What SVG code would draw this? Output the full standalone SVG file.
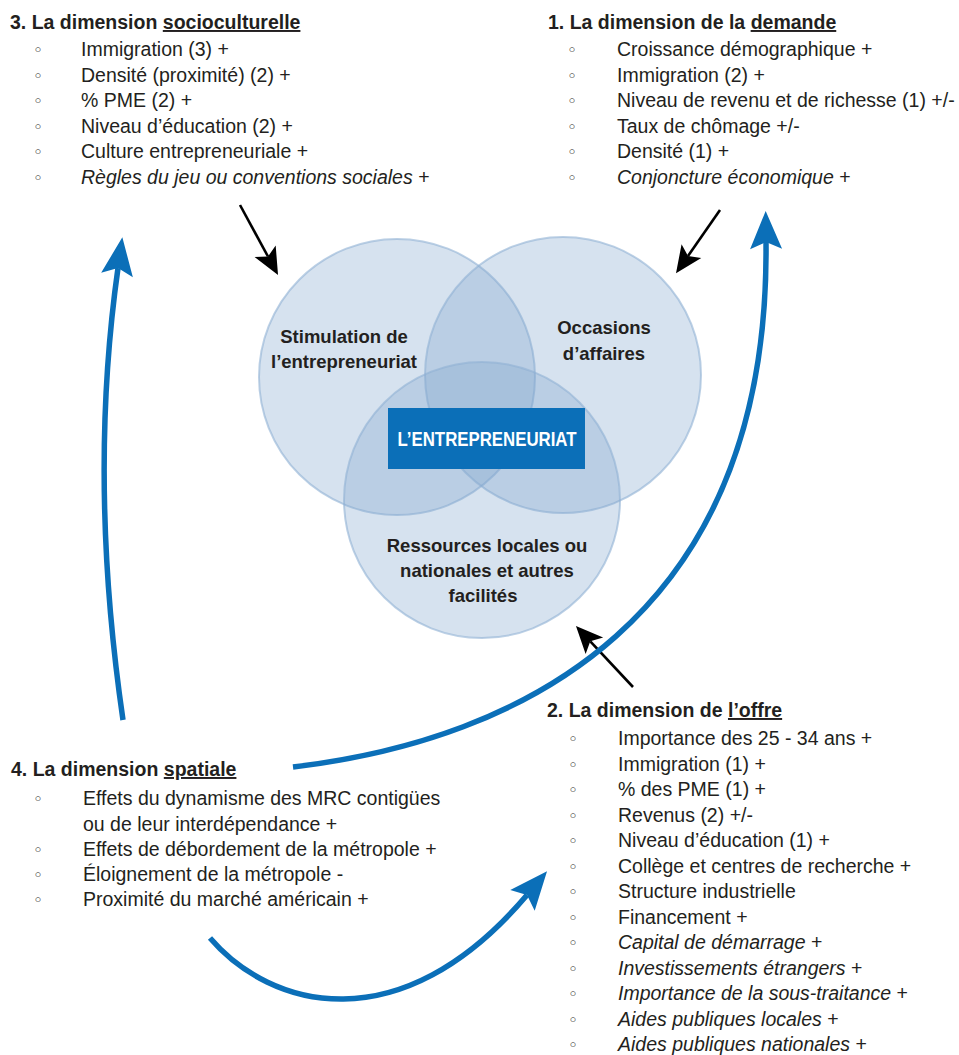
<svg xmlns="http://www.w3.org/2000/svg" width="959" height="1055" viewBox="0 0 959 1055">
<style>
text{font-family:"Liberation Sans",Arial,sans-serif;fill:#231f20}
.h{font-size:19.5px;font-weight:bold}
.it{font-size:19.5px}
.i{font-style:italic}
.n{font-style:normal}
.b{font-size:17px;font-family:"DejaVu Sans",sans-serif}
.u{text-decoration:underline}
.lbl{font-size:18.5px;font-weight:bold;text-anchor:middle}
.circ{fill:#7fa4cd;fill-opacity:0.32;stroke:#8fb0d3;stroke-opacity:0.6;stroke-width:2}
.blk{fill:none;stroke:#000;stroke-width:2.6}
.blu{fill:none;stroke:#0b6fb8;stroke-width:5.5}
</style>
<defs>
<marker id="ab" markerUnits="userSpaceOnUse" orient="auto" overflow="visible" refX="0" refY="0" markerWidth="40" markerHeight="40">
<path d="M21,0 L-6,-12 L0,0 L-6,12 Z" fill="#000"/>
</marker>
<marker id="aw" markerUnits="userSpaceOnUse" orient="auto" overflow="visible" refX="0" refY="0" markerWidth="50" markerHeight="50">
<path d="M31,0 L-7,-16 L0,0 L-7,16 Z" fill="#0b6fb8"/>
</marker>
</defs>

<g id="venn">
<circle class="circ" cx="397" cy="377" r="138"/>
<circle class="circ" cx="563" cy="375" r="138"/>
<circle class="circ" cx="482" cy="500" r="138"/>
</g>

<g id="stimulation">
<text class="lbl" x="344" y="343">Stimulation de</text>
<text class="lbl" x="344" y="368">l’entrepreneuriat</text>
</g>
<g id="occasions">
<text class="lbl" x="604" y="334">Occasions</text>
<text class="lbl" x="604" y="360">d’affaires</text>
</g>
<g id="ressources">
<text class="lbl" x="487" y="552">Ressources locales ou</text>
<text class="lbl" x="487" y="577">nationales et autres</text>
<text class="lbl" x="483" y="602">facilités</text>
</g>
<g id="entrepreneuriat">
<rect x="388" y="408" width="197" height="61" fill="#0b6fb8"/>
<text x="487" y="446" font-size="21" font-weight="bold" text-anchor="middle" style="fill:#fff" textLength="179" lengthAdjust="spacingAndGlyphs">L’ENTREPRENEURIAT</text>
</g>

<g id="connectors">
<line class="blk" x1="240" y1="205" x2="268" y2="256.5" marker-end="url(#ab)"/>
<line class="blk" x1="720" y1="210" x2="688" y2="256" marker-end="url(#ab)"/>
<line class="blk" x1="633" y1="687" x2="590.3" y2="641.3" marker-end="url(#ab)"/>
<path class="blu" d="M123,720 Q88,480 118,268" marker-end="url(#aw)"/>
<path class="blu" d="M293,767 C520,740 770,620 766,242" marker-end="url(#aw)"/>
<path class="blu" d="M210,938 C270,1008 400,1045 527,895" marker-end="url(#aw)"/>
</g>

<g id="dim3">
<text class="h" x="10" y="29">3. La dimension <tspan class="u">socioculturelle</tspan></text>
<text class="b" x="38" y="56" text-anchor="middle">◦</text><text class="it" x="81" y="56">Immigration (3) +</text>
<text class="b" x="38" y="81.6" text-anchor="middle">◦</text><text class="it" x="81" y="81.6">Densité (proximité) (2) +</text>
<text class="b" x="38" y="107.2" text-anchor="middle">◦</text><text class="it" x="81" y="107.2">% PME (2) +</text>
<text class="b" x="38" y="132.8" text-anchor="middle">◦</text><text class="it" x="81" y="132.8">Niveau d’éducation (2) +</text>
<text class="b" x="38" y="158.4" text-anchor="middle">◦</text><text class="it" x="81" y="158.4">Culture entrepreneuriale +</text>
<text class="b" x="38" y="184" text-anchor="middle">◦</text><text class="it i" x="81" y="184">Règles du jeu ou conventions sociales<tspan class="n"> +</tspan></text>
</g>

<g id="dim1">
<text class="h" x="548" y="29">1. La dimension de la <tspan class="u">demande</tspan></text>
<text class="b" x="572" y="56" text-anchor="middle">◦</text><text class="it" x="617" y="56">Croissance démographique +</text>
<text class="b" x="572" y="81.6" text-anchor="middle">◦</text><text class="it" x="617" y="81.6">Immigration (2) +</text>
<text class="b" x="572" y="107.2" text-anchor="middle">◦</text><text class="it" x="617" y="107.2">Niveau de revenu et de richesse (1) +/-</text>
<text class="b" x="572" y="132.8" text-anchor="middle">◦</text><text class="it" x="617" y="132.8">Taux de chômage +/-</text>
<text class="b" x="572" y="158.4" text-anchor="middle">◦</text><text class="it" x="617" y="158.4">Densité (1) +</text>
<text class="b" x="572" y="184" text-anchor="middle">◦</text><text class="it i" x="617" y="184">Conjoncture économique<tspan class="n"> +</tspan></text>
</g>

<g id="dim4">
<text class="h" x="11" y="776">4. La dimension <tspan class="u">spatiale</tspan></text>
<text class="b" x="38" y="805" text-anchor="middle">◦</text><text class="it" x="83" y="805">Effets du dynamisme des MRC contigües</text>
<text class="it" x="83" y="830.5">ou de leur interdépendance +</text>
<text class="b" x="38" y="856" text-anchor="middle">◦</text><text class="it" x="83" y="856">Effets de débordement de la métropole +</text>
<text class="b" x="38" y="881" text-anchor="middle">◦</text><text class="it" x="83" y="881">Éloignement de la métropole -</text>
<text class="b" x="38" y="906" text-anchor="middle">◦</text><text class="it" x="83" y="906">Proximité du marché américain +</text>
</g>

<g id="dim2">
<text class="h" x="547" y="717">2. La dimension de <tspan class="u">l’offre</tspan></text>
<text class="b" x="573" y="745" text-anchor="middle">◦</text><text class="it" x="618" y="745">Importance des 25 - 34 ans +</text>
<text class="b" x="573" y="770.5" text-anchor="middle">◦</text><text class="it" x="618" y="770.5">Immigration (1) +</text>
<text class="b" x="573" y="796" text-anchor="middle">◦</text><text class="it" x="618" y="796">% des PME (1) +</text>
<text class="b" x="573" y="821.5" text-anchor="middle">◦</text><text class="it" x="618" y="821.5">Revenus (2) +/-</text>
<text class="b" x="573" y="847" text-anchor="middle">◦</text><text class="it" x="618" y="847">Niveau d’éducation (1) +</text>
<text class="b" x="573" y="872.5" text-anchor="middle">◦</text><text class="it" x="618" y="872.5">Collège et centres de recherche +</text>
<text class="b" x="573" y="898" text-anchor="middle">◦</text><text class="it" x="618" y="898">Structure industrielle</text>
<text class="b" x="573" y="923.5" text-anchor="middle">◦</text><text class="it" x="618" y="923.5">Financement +</text>
<text class="b" x="573" y="949" text-anchor="middle">◦</text><text class="it i" x="618" y="949">Capital de démarrage<tspan class="n"> +</tspan></text>
<text class="b" x="573" y="974.5" text-anchor="middle">◦</text><text class="it i" x="618" y="974.5">Investissements étrangers<tspan class="n"> +</tspan></text>
<text class="b" x="573" y="1000" text-anchor="middle">◦</text><text class="it i" x="618" y="1000">Importance de la sous-traitance<tspan class="n"> +</tspan></text>
<text class="b" x="573" y="1025.5" text-anchor="middle">◦</text><text class="it i" x="618" y="1025.5">Aides publiques locales<tspan class="n"> +</tspan></text>
<text class="b" x="573" y="1051" text-anchor="middle">◦</text><text class="it i" x="618" y="1051">Aides publiques nationales<tspan class="n"> +</tspan></text>
</g>
</svg>
